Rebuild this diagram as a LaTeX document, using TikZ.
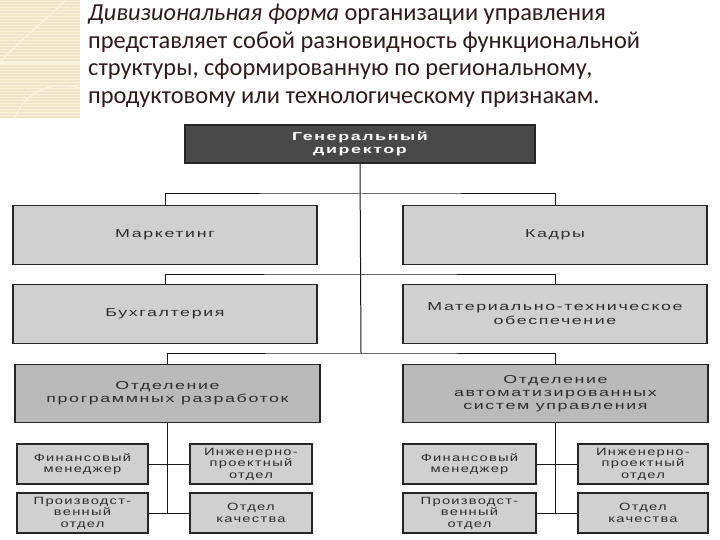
\documentclass[tikz,border=0pt]{standalone}
\usepackage{fontspec}
\setmainfont{Carlito}
\newfontfamily\boxfont[FakeStretch=1.4,LetterSpace=12]{Liberation Sans}
\newfontfamily\rowfont[FakeStretch=1.55,LetterSpace=14]{Liberation Sans}
\usetikzlibrary{positioning,calc}
\definecolor{paper}{RGB}{243,228,200}
\definecolor{paperline}{RGB}{251,242,224}
\definecolor{headtext}{RGB}{50,26,26}
\definecolor{boxgray}{RGB}{208,208,208}
\definecolor{divgray}{RGB}{186,186,186}
\definecolor{chief}{RGB}{72,72,72}
\definecolor{boxtext}{RGB}{45,45,45}

\begin{document}
\begin{tikzpicture}[x=1pt,y=-1pt,
  unit/.style={draw=black!85,line width=1.3pt,fill=boxgray,inner sep=2pt,align=center,
    text=boxtext,font=\boxfont\fontsize{10.5}{11.5}\selectfont},
  wide/.style={unit,minimum width=304pt,minimum height=59pt,
    font=\rowfont\fontsize{11.5}{14}\selectfont},
  divbox/.style={unit,fill=divgray,minimum width=305pt,minimum height=58pt,
    font=\rowfont\fontsize{11.5}{13}\selectfont},
  leaf/.style={unit,minimum height=40pt},
  link/.style={line width=1pt,black!90}]
  \useasboundingbox (0,0) rectangle (720,540);
  \fill[white] (0,0) rectangle (720,540);
  % corner ornament
  \fill[paper] (0,0) rectangle (80,118);
  \foreach \y in {1.5,4.5,...,117} \draw[paperline,line width=.7pt] (0,\y) -- (80,\y);
  \draw[paperline,line width=1.6pt] (66,0) .. controls (48,18) and (20,40) .. (0,62);
  \draw[paperline,line width=1.2pt] (0,63) -- (80,63);
  \draw[paperline,line width=1.6pt] (15,118) .. controls (24,92) and (52,80) .. (80,88);
  % heading
  \node[anchor=north west,inner sep=0pt,align=left,text=headtext,
    font=\fontsize{24.4}{27.5}\selectfont] (intro) at (88,4)
    {\textit{Дивизиональная форма} организации управления\\
     представляет собой разновидность функциональной\\
     структуры, сформированную по региональному,\\
     продуктовому или технологическому признакам.};
  % chart
  \node[unit,fill=chief,text=white,minimum width=350pt,minimum height=38pt,
    font=\rowfont\bfseries\fontsize{11.5}{12.5}\selectfont] (gendir) at (360,144) {Генеральный\\директор};
  \node[wide] (market) at (165,235) {Маркетинг};
  \node[wide] (staff) at (555,235) {Кадры};
  \node[wide] (account) at (165,314) {Бухгалтерия};
  \node[wide] (supply) at (555,314) {Материально-техническое\\обеспечение};
  \node[divbox] (softdiv) at (167.5,393.5) {Отделение\\программных разработок};
  \node[divbox] (acsdiv) at (555.5,393.5) {Отделение\\автоматизированных\\систем управления};
  % left division
  \node[leaf,minimum width=131pt] (finL) at (82.5,464) {Финансовый\\менеджер};
  \node[leaf,minimum width=122pt] (engL) at (251,464) {Инженерно-\\проектный\\отдел};
  \node[leaf,minimum width=131pt] (prodL) at (82.5,513) {Производст-\\венный\\отдел};
  \node[leaf,minimum width=122pt] (qualL) at (251,513) {Отдел\\качества};
  % right division
  \node[leaf,minimum width=133pt] (finR) at (469.5,464) {Финансовый\\менеджер};
  \node[leaf,minimum width=130pt] (engR) at (643,464) {Инженерно-\\проектный\\отдел};
  \node[leaf,minimum width=133pt] (prodR) at (469.5,513) {Производст-\\венный\\отдел};
  \node[leaf,minimum width=130pt] (qualR) at (643,513) {Отдел\\качества};
  % links
  \coordinate (j1) at (361,194);
  \coordinate (j2) at (361,274);
  \coordinate (j3) at (361,353);
  \draw[link] (gendir.south) -- (j3);
  \draw[link] (market.north) |- (j1) -| (staff.north);
  \draw[link] (account.north) |- (j2) -| (supply.north);
  \draw[link] (softdiv.north) |- (j3) -| (acsdiv.north);
  \draw[link] (softdiv.south) -- (softdiv.south |- prodL.east);
  \draw[link] (finL) -- (engL);
  \draw[link] (prodL) -- (qualL);
  \draw[link] (acsdiv.south) -- (acsdiv.south |- prodR.east);
  \draw[link] (finR) -- (engR);
  \draw[link] (prodR) -- (qualR);
\end{tikzpicture}
\end{document}
